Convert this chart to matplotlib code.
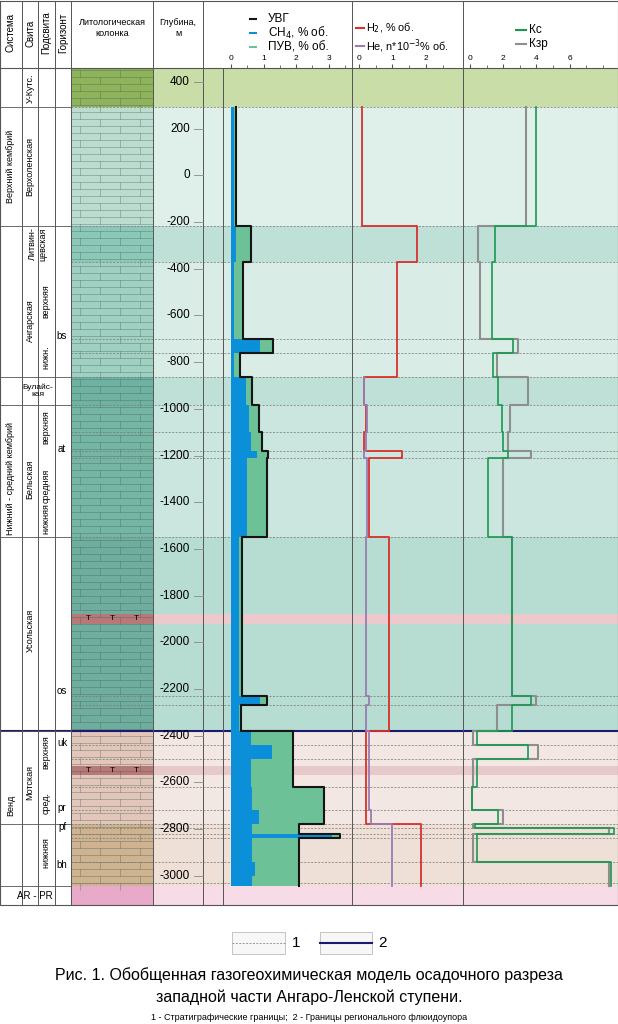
import matplotlib.pyplot as plt
import matplotlib.patches as mp

plt.rcParams['font.family'] = ['Arial', 'Liberation Sans', 'DejaVu Sans']

# stratigraphic bands: top, bottom (depth, m), background colour, lith colour
band_top = [460, 293, -217, -371, -863, -983, -1549, -1880, -1920, -2379, -2530, -2570, -2778, -3043]
band_bot = [293, -217, -371, -863, -983, -1549, -1880, -1920, -2379, -2530, -2570, -2778, -3043, -3125]
band_bg = ['#c9dda9', '#dff0ea', '#bfe0d7', '#d9ede6', '#bfe0d7', '#cbe6de', '#b7ddd3', '#ecc9cc',
           '#b7ddd3', '#f3e7e3', '#e8c9c9', '#f3e7e3', '#eee0d6', '#f7dbe6']
lith_c = ['#8fb35a', '#bcdccf', '#8cc8b8', '#9fd0c2', '#6fb2a1', '#74b5a4', '#6fae9e', '#b97878',
          '#6fae9e', '#e2c6b9', '#b97878', '#e2c6b9', '#cfb28f', '#e9a9c9']
strat_lines = [293, -217, -371, -700, -760, -863, -983, -1100, -1180, -1210, -1549, -2230, -2270,
               -2440, -2500, -2620, -2720, -2778, -2795, -2820, -2840, -2940, -3030]

# step data: interval boundaries (top->bottom) and values per interval
d_edges = [293, -217, -371, -700, -760, -863, -983, -1100, -1180, -1210, -1549, -2230, -2270, -2379,
           -2440, -2500, -2620, -2720, -2778, -2795, -2820, -2840, -2940, -3000, -3043]
uvg = [0.15, 0.6, 0.37, 1.3, 0.28, 0.65, 0.85, 0.95, 1.15, 1.1, 0.33, 1.1, 0.3,
       1.9, 1.9, 1.9, 2.85, 2.85, 2.1, 2.1, 3.35, 2.1, 2.1, 2.1]
ch4 = [0.1, 0.15, 0.1, 0.9, 0.1, 0.45, 0.55, 0.6, 0.8, 0.5, 0.25, 0.9, 0.25,
       0.6, 1.25, 0.6, 0.65, 0.85, 0.65, 0.65, 3.1, 0.65, 0.75, 0.65]
h2 = [0.1, 1.75, 1.15, 1.15, 1.15, 0.15, 0.2, 0.15, 1.3, 0.3, 0.9, 0.9, 0.9,
      0.2, 0.2, 0.2, 0.2, 0.2, 1.85, 1.85, 1.85, 1.85, 1.85, 1.85]
he = [None, None, None, None, None, 0.15, 0.25, 0.2, 0.15, 0.25, 0.2, 0.3, 0.2,
      0.3, 0.3, 0.3, 0.3, 0.35, 1.0, 1.0, 1.0, 1.0, 1.0, 1.0]
kc = [4.0, 1.5, 1.3, 2.6, 1.4, 1.7, 1.9, 2.0, 2.3, 1.1, 2.5, 3.7, 2.5,
      0.4, 3.5, 0.4, 0.1, 1.7, 0.3, 8.7, 0.4, 0.4, 8.5, 8.5]
kzr = [3.4, 0.5, 0.6, 2.9, 1.6, 3.5, 2.4, 2.3, 3.7, 2.0, 2.5, 4.0, 1.6,
       0.2, 4.1, 0.2, 0.1, 2.0, 0.2, 8.4, 0.2, 0.2, 8.4, 8.4]

W, H = 618, 1024
fig = plt.figure(figsize=(6.18, 10.24), dpi=100)
Y0, Y1 = 68, 905
D0, D1 = 460, -3125


def fx(px):
    return px / W


def fy(py):
    return 1 - py / H


body = fig.add_axes([0, fy(Y1), 1, (Y1 - Y0) / H])
body.set_xlim(0, W)
body.set_ylim(D1, D0)
body.axis('off')
for t, b, c, lc in zip(band_top, band_bot, band_bg, lith_c):
    body.add_patch(mp.Rectangle((71, b), W - 71, t - b, color=c, lw=0))
    body.add_patch(mp.Rectangle((71, b), 82, t - b, color=lc, lw=0))
# lithology pattern (rough brick lines)
d = 450
while d > -3043:
    body.plot([71, 153], [d, d], color='#3d5f55', lw=0.4, alpha=0.6)
    off = 0 if int(d / 30) % 2 else 20
    for x in range(80 + off, 150, 40):
        body.plot([x, x], [d, d - 30], color='#3d5f55', lw=0.4, alpha=0.6)
    d -= 30
for dd in (-1900, -2550):
    for x in (88, 112, 136):
        body.text(x, dd, 'T', ha='center', va='center', fontsize=6)
for dl in strat_lines:
    body.plot([71, W], [dl, dl], color='#777777', lw=0.5, ls=(0, (3, 2)))
body.plot([0, W], [-2379, -2379], color='#1c1a6e', lw=1.5)
for dl in [293, -217, -863, -983, -1549, -2379, -2778, -3043]:
    body.plot([0, 71], [dl, dl], color='#555555', lw=0.6)
for x in [22, 38, 55, 71, 153, 203, 223, 352, 463]:
    body.plot([x, x], [D0, D1], color='#555555', lw=0.7)
# depth ticks
for v in range(400, -3001, -200):
    body.text(190, v, str(v), ha='right', va='center', fontsize=8.5)
    body.plot([194, 203], [v, v], color='#888888', lw=0.6)

# text in left columns
def vt(x, d, s, fs=6.5):
    body.text(x, d, s, rotation=90, ha='center', va='center', fontsize=fs)

vt(11, 40, 'Верхний кембрий')
vt(11, -1300, 'Нижний - средний кембрий')
vt(11, -2700, 'Венд')
body.text(35, -3085, 'AR - PR', ha='center', va='center', fontsize=7)
vt(30, 375, 'У-Кутс.')
vt(30, 40, 'Верхоленская')
body.text(38, -294, 'Литвин-\nцевская', rotation=90, ha='center', va='center', fontsize=6.5)
vt(30, -620, 'Ангарская')
vt(46, -540, 'верхняя')
vt(46, -780, 'нижн.')
body.text(38, -923, 'Булайс-\nкая', ha='center', va='center', fontsize=6, linespacing=0.9)
vt(30, -1300, 'Бельская')
vt(46, -1080, 'верхняя')
vt(46, -1330, 'средняя')
vt(46, -1470, 'нижняя')
vt(30, -1950, 'Усольская')
vt(30, -2600, 'Мотская')
vt(46, -2470, 'верхняя')
vt(46, -2690, 'сред.')
vt(46, -2900, 'нижняя')
for lab, dd in [('bs', -690), ('at', -1170), ('os', -2210), ('uk', -2430),
                ('pr', -2710), ('pf', -2790), ('bh', -2955)]:
    body.text(62, dd, lab, ha='center', va='center', fontsize=7)


def panel(x0, x1, px0, scale):
    ax = fig.add_axes([fx(x0), fy(Y1), (x1 - x0) / W, (Y1 - Y0) / H])
    ax.set_xlim((x0 - px0) / scale, (x1 - px0) / scale)
    ax.set_ylim(D1, D0)
    ax.patch.set_alpha(0)
    for s in ax.spines.values():
        s.set_visible(False)
    ax.set_yticks([])
    ax.xaxis.tick_top()
    ax.tick_params(axis='x', length=3, pad=1, labelsize=6, color='#555555')
    ax.tick_params(which='minor', length=2, color='#555555')
    return ax


def steps(vals, edges):
    xs, ys = [], []
    for i, v in enumerate(vals):
        xs += [v, v]
        ys += [edges[i], edges[i + 1]]
    return xs, ys


a1 = panel(223, 352, 231, 32.5)
a1.set_xticks([0, 1, 2, 3])
a1.set_xticks([0.5, 1.5, 2.5, 3.5], minor=True)
x, y = steps(uvg, d_edges)
a1.fill_betweenx(y, 0, x, color='#6cc196', lw=0)
x, y = steps(ch4, d_edges)
a1.fill_betweenx(y, 0, x, color='#0a8fd8', lw=0)
x, y = steps(uvg, d_edges)
a1.plot(x, y, color='#151515', lw=1.5)

a2 = panel(352, 463, 359, 33.4)
a2.set_xticks([0, 1, 2])
a2.set_xticks([0.5, 1.5, 2.5], minor=True)
x, y = steps(h2, d_edges)
a2.plot(x, y, color='#d9302c', lw=1.3)
x, y = steps(he[5:], d_edges[5:])
a2.plot(x, y, color='#9a7bb5', lw=1.3)

a3 = panel(463, 618, 470, 16.6)
a3.set_xticks([0, 2, 4, 6])
a3.set_xticks([1, 3, 5, 7, 8], minor=True)
x, y = steps(kzr, d_edges)
a3.plot(x, y, color='#8e8e8e', lw=1.5)
x, y = steps(kc, d_edges)
a3.plot(x, y, color='#1a9850', lw=1.2)

# header
hd = fig.add_axes([0, 0, 1, 1])
hd.set_xlim(0, W)
hd.set_ylim(H, 0)
hd.axis('off')
hd.plot([0, W, W, 0, 0], [1, 1, Y1, Y1, 1], color='#555555', lw=0.8)
hd.plot([0, W], [Y0, Y0], color='#555555', lw=0.8)
for x in [22, 38, 55, 71, 153, 203, 352, 463]:
    hd.plot([x, x], [1, Y0], color='#555555', lw=0.7)
for x, s in [(11, 'Система'), (30, 'Свита'), (46, 'Подсвита'), (63, 'Горизонт')]:
    hd.text(x, 33, s, rotation=90, ha='center', va='center', fontsize=7)
hd.text(112, 28, 'Литологическая\nколонка', ha='center', va='center', fontsize=6.5)
hd.text(178, 28, 'Глубина,\nм', ha='center', va='center', fontsize=6.5)
for yy, c, s in [(19, '#151515', 'УВГ'), (33, '#0a8fd8', 'CH$_4$, % об.'), (47, '#6cc196', 'ПУВ, % об.')]:
    hd.plot([250, 256], [yy, yy], color=c, lw=1.5)
    hd.text(268, yy, s, va='center', fontsize=8.5)
for yy, c, s in [(28, '#d9302c', 'H$_2$, % об.'), (46, '#9a7bb5', 'He, n*10$^{-3}$% об.')]:
    hd.plot([356, 364], [yy, yy], color=c, lw=1.5)
    hd.text(366, yy, s, va='center', fontsize=7.8)
for yy, c, s in [(30, '#1a9850', 'Кс'), (44, '#8e8e8e', 'Кзр')]:
    hd.plot([516, 526], [yy, yy], color=c, lw=1.5)
    hd.text(529, yy, s, va='center', fontsize=8.5)

# bottom legend and caption
hd.add_patch(mp.Rectangle((232, 932), 53, 22, fc='#f7f7f7', ec='#bbbbbb', lw=0.6))
hd.plot([232, 285], [943, 943], color='#999999', lw=0.7, ls=(0, (2, 1.5)))
hd.text(292, 943, '1', va='center', fontsize=11)
hd.add_patch(mp.Rectangle((320, 932), 52, 22, fc='#f7f7f7', ec='#bbbbbb', lw=0.6))
hd.plot([320, 372], [943, 943], color='#1c1a6e', lw=1.5)
hd.text(378, 943, '2', va='center', fontsize=11)
hd.text(309, 975, 'Рис. 1. Обобщенная газогеохимическая модель осадочного разреза',
        ha='center', va='center', fontsize=11.5)
hd.text(309, 997, 'западной части Ангаро-Ленской ступени.', ha='center', va='center', fontsize=11.5)
hd.text(309, 1017, '1 - Стратиграфические границы;  2 - Границы регионального флюидоупора',
        ha='center', va='center', fontsize=6.5)

fig.savefig('out.png', dpi=100)
